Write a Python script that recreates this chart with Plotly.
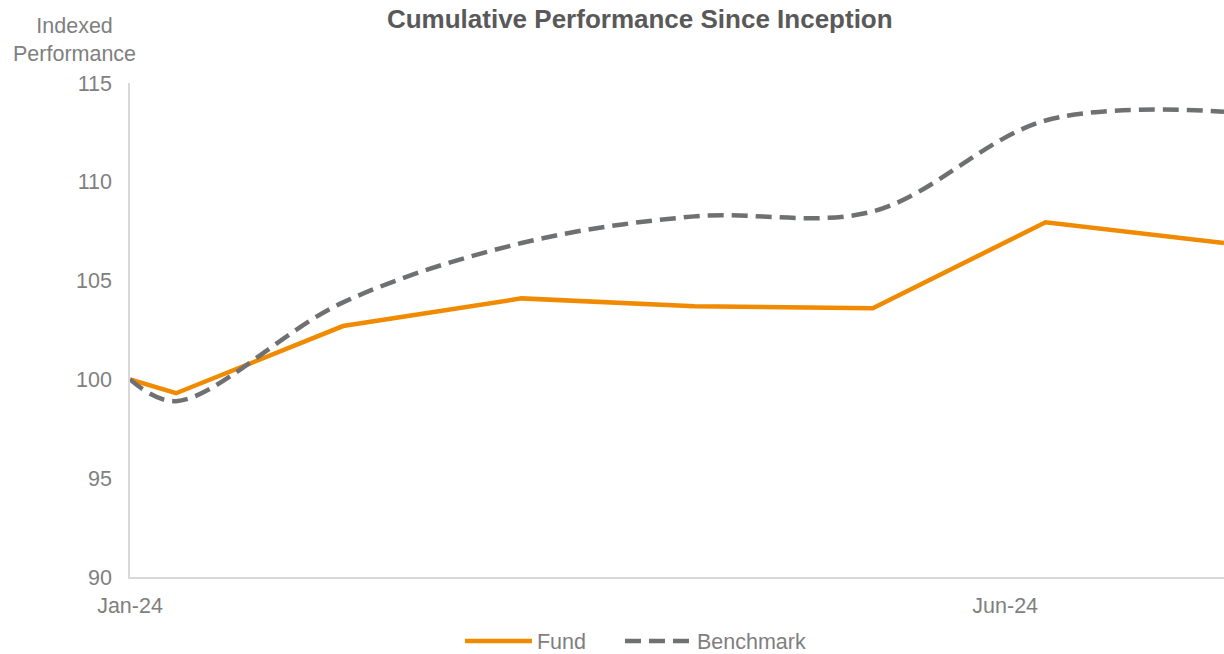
import plotly.graph_objects as go

dates = ["2024-01-23", "2024-01-31", "2024-02-29", "2024-03-31",
         "2024-04-30", "2024-05-31", "2024-06-30", "2024-07-31"]
fund = [100.0, 99.3, 102.7, 104.1, 103.7, 103.6, 107.95, 106.9]
benchmark = [100.0, 98.9, 103.9, 106.9, 108.25, 108.5, 113.1, 113.55]
tick_vals = ["2024-01-23", "2024-06-23"]
tick_text = ["Jan-24", "Jun-24"]
y_ticks = [90, 95, 100, 105, 110, 115]

ORANGE = "#F08A00"
GRAY = "#6E7072"
TXT = "#7F7F7F"
FONT = "Liberation Sans, Arial, sans-serif"

fig = go.Figure()
fig.add_trace(go.Scatter(x=dates, y=fund, name="Fund", mode="lines",
                         line=dict(color=ORANGE, width=4.5), legend="legend"))
fig.add_trace(go.Scatter(x=dates, y=benchmark, name="Benchmark", mode="lines",
                         line=dict(color=GRAY, width=4.5, dash="16px,8px",
                                   shape="spline", smoothing=1.0),
                         legend="legend2"))

leg_common = dict(orientation="h", xanchor="left", y=0.02, yref="container",
                  yanchor="middle", font=dict(size=21.5, color=TXT), itemwidth=67)

fig.update_layout(
    width=1224, height=654,
    margin=dict(l=130, r=0, t=83, b=77),
    paper_bgcolor="white", plot_bgcolor="white",
    font=dict(family=FONT, color=TXT, size=21),
    title=dict(text="<b>Cumulative Performance Since Inception</b>",
               x=0.466, xref="paper", xanchor="center",
               y=0.971, yref="container", yanchor="middle",
               font=dict(family=FONT, size=26, color="#595959")),
    xaxis=dict(type="date", range=["2024-01-23", "2024-07-31"],
               tickvals=tick_vals, ticktext=tick_text, showgrid=False,
               showline=True, linecolor="#D9D9D9", linewidth=1.5,
               ticks="", zeroline=False, ticklabelstandoff=8,
               tickfont=dict(size=21.5, color=TXT)),
    yaxis=dict(range=[90, 115], tickvals=y_ticks, showgrid=False,
               showline=True, linecolor="#D9D9D9", linewidth=1.5,
               ticks="", zeroline=False, ticklabelstandoff=12,
               tickfont=dict(size=21.5, color=TXT)),
    legend=dict(x=0.3016, **leg_common),
    legend2=dict(x=0.4479, **leg_common),
    showlegend=True,
)
fig.add_annotation(text="Indexed<br>Performance", xref="paper", yref="paper",
                   x=-0.051, y=1.087, xanchor="center", yanchor="middle",
                   showarrow=False, font=dict(size=21.5, color=TXT), align="center")

fig.write_html("out.html", config={"displayModeBar": False},
               post_script="document.body.style.margin='0';document.body.style.overflow='hidden';")
